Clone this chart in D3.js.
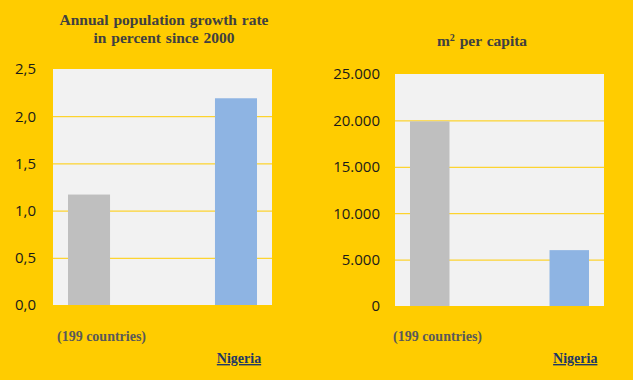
<!DOCTYPE html>
<html><head><meta charset="utf-8">
<script src="https://cdn.jsdelivr.net/npm/d3@7"></script>
<style>body{margin:0;background:#FFCC00;}svg{display:block;}</style>
</head><body>
<svg id="c" width="633" height="380"></svg>
<script>
const categories = ["(199 countries)", "Nigeria"];
const growthValues = [1.17, 2.19];
const areaValues = [19900, 6020];
const growthTicks = [0, 0.5, 1.0, 1.5, 2.0, 2.5];
const areaTicks = [0, 5000, 10000, 15000, 20000, 25000];
const barColors = ["#BFBFBF", "#8EB4E3"];

const svg = d3.select("#c");
svg.append("rect").attr("width",633).attr("height",380).attr("fill","#FFCC00");

function panel(cfg){
  const g = svg.append("g");
  const y = d3.scaleLinear().domain([0, cfg.max]).range([cfg.bottom, cfg.top]);
  const x = d3.scaleBand().domain(categories).range([cfg.left, cfg.right]).paddingInner(cfg.pi).paddingOuter(cfg.po);
  g.append("rect").attr("x",cfg.left).attr("y",cfg.top).attr("width",cfg.right-cfg.left).attr("height",cfg.bottom-cfg.top).attr("fill","#F2F2F2");
  const ax = d3.axisLeft(y).tickValues(cfg.ticks).tickFormat(cfg.fmt).tickSize(-(cfg.right-cfg.left)).tickPadding(cfg.pad);
  const a = g.append("g").attr("transform",`translate(${cfg.left},0)`).call(ax);
  a.select(".domain").remove();
  a.selectAll(".tick line").attr("stroke","#FFCC00").attr("stroke-width",1).filter(d=>d===0||d===cfg.max).remove();
  a.selectAll(".tick text").attr("fill","#1a1a1a").style("font-family","'Open Sans', 'Liberation Sans', sans-serif").style("font-size","15px");
  g.selectAll("rect.bar").data(cfg.values).join("rect").attr("class","bar")
    .attr("x",(d,i)=>x(categories[i])).attr("width",x.bandwidth())
    .attr("y",d=>y(d)).attr("height",d=>cfg.bottom-y(d)).attr("fill",(d,i)=>barColors[i]);
  const tf = "'Liberation Serif', 'Times New Roman', serif";
  cfg.title.forEach((t,i)=>{
    const tt = g.append("text").attr("x",cfg.tx).attr("y",cfg.ty+i*18).attr("text-anchor","middle")
      .attr("fill","#404040").style("font-family",tf).style("font-weight","bold").style("font-size","15.5px").style("word-spacing","1px");
    if (typeof t === "object"){ tt.append("tspan").text(t.a); tt.append("tspan").attr("dy",-5).style("font-size","10px").text(t.sup); tt.append("tspan").attr("dy",5).text(t.b);} else tt.text(t);
  });
  g.append("text").attr("x",x(categories[0])+cfg.lo).attr("y",341).attr("fill","#595959")
    .style("font-family",tf).style("font-weight","bold").style("font-size","14px").text(categories[0]);
  g.append("text").attr("x",x(categories[1])+x.bandwidth()/2+cfg.no).attr("y",363).attr("text-anchor","middle").attr("fill","#1F3864")
    .style("font-family",tf).style("font-weight","bold").style("font-size","14px").style("text-decoration","underline").text(categories[1]);
}
panel({left:53,right:272,top:69,bottom:305,max:2.5,ticks:growthTicks,values:growthValues,
  fmt:d=>d3.format(".1f")(d).replace(".",","),pad:17,pi:0.714,po:0.102,lo:-11,no:3,
  title:["Annual population growth rate","in percent since 2000"],tx:164,ty:25});
panel({left:395,right:604,top:74,bottom:306,max:25000,ticks:areaTicks,values:areaValues,
  fmt:d=>d3.format(",")(d).replace(/,/g,"."),pad:15,pi:0.717,po:0.1075,lo:-17,no:6,
  title:[{a:"m",sup:"2",b:" per capita"}],tx:482,ty:46});
</script>
</body></html>
